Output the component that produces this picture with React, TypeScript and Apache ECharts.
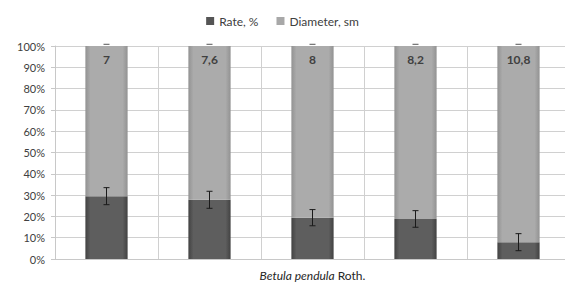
import React, { useEffect, useRef } from "react";
import * as echarts from "echarts";

const categories = ["1", "2", "3", "4", "5"];
const ratePct = [29.5, 27.8, 19.4, 18.8, 7.9];
const rateErr = [4, 4, 3.8, 3.9, 4];
const diameterLabels = ["7", "7,6", "8", "8,2", "10,8"];
const diameterErr = [0.8, 0.8, 0.8, 0.8, 0.8];
const yTicks = [0, 10, 20, 30, 40, 50, 60, 70, 80, 90, 100];

const FONT = "Lato, 'Open Sans', sans-serif";

export default function App() {
  const ref = useRef<HTMLDivElement>(null);
  useEffect(() => {
    document.body.style.margin = "0";
    const chart = echarts.init(ref.current!, null, { renderer: "svg" });
    const diameterShare = ratePct.map((r) => 100 - r);
    const errData = [
      ...ratePct.map((r, i) => [i, r - rateErr[i], r + rateErr[i], 1]),
      ...diameterErr.map((e, i) => [i, 100, 100 + e, 0]),
    ];
    const hGrad = (edge: string, mid: string) =>
      new echarts.graphic.LinearGradient(0, 0, 1, 0, [
        { offset: 0, color: edge },
        { offset: 0.12, color: mid },
        { offset: 0.88, color: mid },
        { offset: 1, color: edge },
      ]);
    chart.setOption({
      animation: false,
      textStyle: { fontFamily: FONT },
      legend: {
        top: 10,
        left: "center",
        itemWidth: 8,
        itemHeight: 8,
        itemGap: 18,
        textStyle: { fontFamily: FONT, fontSize: 12, color: "#404040" },
        data: [
          { name: "Rate, %", icon: "rect", itemStyle: { color: "#555555" } },
          { name: "Diameter, sm", icon: "rect", itemStyle: { color: "#a8a8a8" } },
        ],
      },
      grid: { left: 55, right: -5, top: 46, bottom: 25, outerBoundsMode: "none", containLabel: false },
      xAxis: {
        type: "category",
        data: categories,
        boundaryGap: true,
        axisLine: { show: true, lineStyle: { color: "#c8c8c8" } },
        axisTick: { show: false },
        axisLabel: { show: false },
        splitLine: { show: true, lineStyle: { color: "#d0d0d0", width: 1 } },
        name: "{i|Betula pendula} {n|Roth.}",
        nameLocation: "middle",
        nameGap: 10,
        nameTextStyle: {
          verticalAlign: "top",
          rich: {
            i: { fontFamily: FONT, fontStyle: "italic", fontSize: 12, color: "#262626" },
            n: { fontFamily: FONT, fontSize: 12, color: "#262626" },
          },
        },
      },
      yAxis: {
        type: "value",
        min: yTicks[0],
        max: yTicks[yTicks.length - 1],
        interval: 10,
        axisLine: { show: true, lineStyle: { color: "#c8c8c8" } },
        axisTick: { show: true, length: 4, lineStyle: { color: "#c8c8c8" } },
        axisLabel: {
          formatter: "{value}%",
          fontFamily: FONT,
          fontSize: 11,
          color: "#404040",
          margin: 10,
        },
        splitLine: { show: true, lineStyle: { color: "#d0d0d0", width: 1 } },
      },
      series: [
        {
          name: "Rate, %",
          type: "bar",
          stack: "total",
          barWidth: "41%",
          data: ratePct,
          itemStyle: { color: hGrad("#424242", "#5e5e5e") },
        },
        {
          name: "Diameter, sm",
          type: "bar",
          stack: "total",
          barWidth: "41%",
          data: diameterShare.map((v, i) => ({
            value: v,
            label: { formatter: diameterLabels[i] },
          })),
          itemStyle: { color: hGrad("#929292", "#ababab") },
          label: {
            show: true,
            position: "insideTop",
            distance: 7,
            fontFamily: FONT,
            fontSize: 12,
            fontWeight: "bold",
            color: "#404040",
          },
        },
        {
          type: "custom",
          name: "err",
          silent: true,
          z: 10,
          data: errData,
          renderItem: (_p: any, api: any) => {
            const x = api.value(0);
            const full = api.value(3) === 1;
            const lo = api.coord([x, api.value(1)]);
            const hi = api.coord([x, api.value(2)]);
            const cap = 3;
            const style = { stroke: full ? "#1a1a1a" : "#555555", lineWidth: 1 };
            const children: any[] = [
              { type: "line", shape: { x1: hi[0] - cap, y1: hi[1], x2: hi[0] + cap, y2: hi[1] }, style },
            ];
            if (full) {
              children.push(
                { type: "line", shape: { x1: lo[0], y1: lo[1], x2: hi[0], y2: hi[1] }, style },
                { type: "line", shape: { x1: lo[0] - cap, y1: lo[1], x2: lo[0] + cap, y2: lo[1] }, style }
              );
            }
            return { type: "group", children };
          },
        },
      ],
    });
    return () => chart.dispose();
  }, []);
  return <div ref={ref} style={{ width: 565, height: 284 }} />;
}
